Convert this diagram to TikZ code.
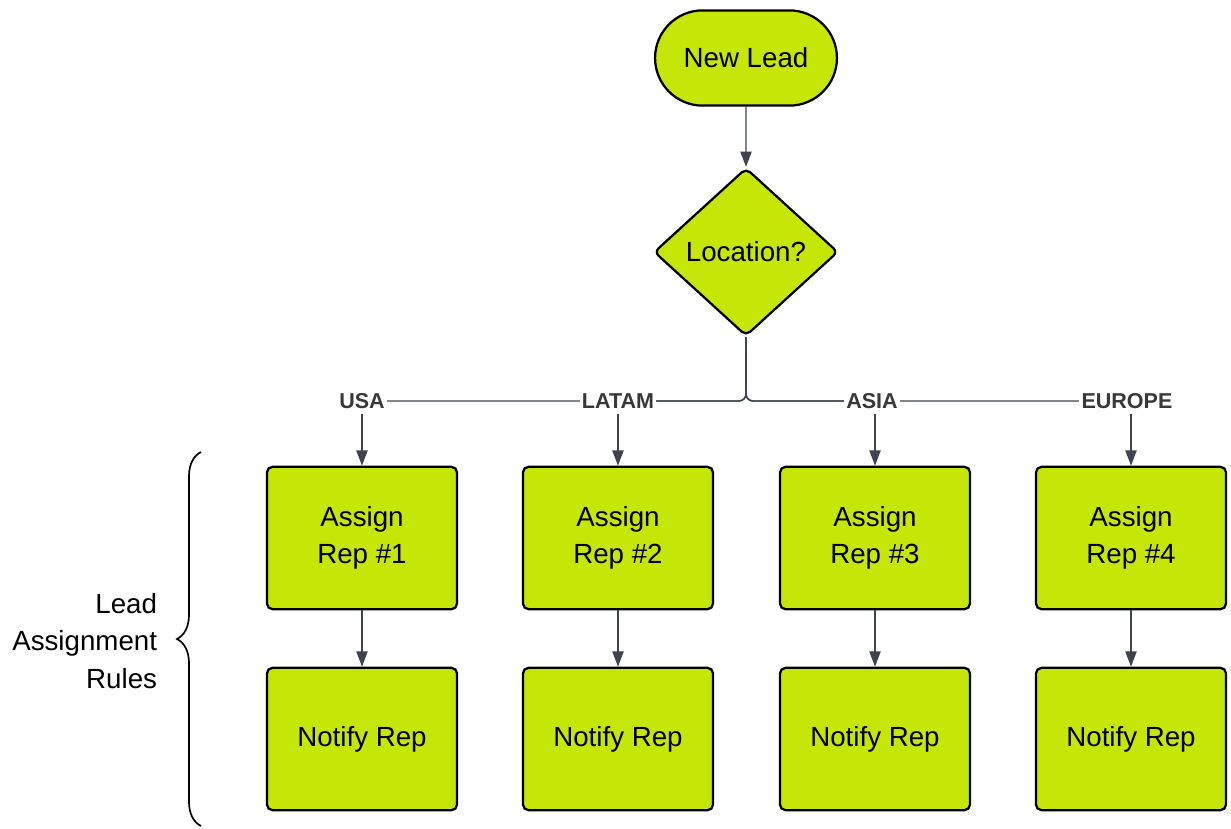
\documentclass[tikz,border=0pt]{standalone}
\usepackage{fontspec}
\setmainfont{Liberation Sans}
\usepackage{tikz}
\usetikzlibrary{arrows.meta}
\usetikzlibrary{backgrounds}
\usetikzlibrary{shapes}
\usetikzlibrary{decorations.pathreplacing}
\definecolor{lime}{HTML}{C5E606}
\definecolor{wire}{HTML}{3D444F}
\definecolor{tag}{HTML}{383838}

\tikzset{
  block/.style={draw=black, line width=1.6pt, fill=lime, rounded corners=4pt,
    minimum width=4.75cm, minimum height=3.56cm, align=center,
    font=\fontsize{19.7}{26.5}\selectfont},
  startnode/.style={draw=black, line width=1.6pt, fill=lime, rounded rectangle,
    minimum width=4.78cm, minimum height=2.38cm,
    font=\fontsize{19.7}{26.5}\selectfont},
  choice/.style={draw=black, line width=1.6pt, fill=lime, diamond, rounded corners=4pt,
    inner sep=0pt, minimum width=4.6cm, minimum height=4.2cm,
    font=\fontsize{19.7}{26.5}\selectfont},
  branch/.style={fill=white, text=tag, inner sep=1.5pt,
    font=\fontsize{15.3}{17}\selectfont\bfseries},
  link/.style={draw=wire, line width=1pt},
  arrow/.style={link, -{Triangle[length=3.8mm, width=2.8mm]}},
}

\begin{document}
\begin{tikzpicture}[x=0.025cm, y=-0.025cm]

  \useasboundingbox (0,0) rectangle (1231,829);

  % Start and decision
  \node[startnode] (Start) at (746,58) {New Lead};
  \node[choice] (Where) at (746,252) {Location?};

  \draw[arrow] (Start) -- (Where);

  % Branch labels on the split line
  \node[branch] (USA) at (362,401) {USA};
  \node[branch] (LATAM) at (618,401) {LATAM};
  \node[branch] (ASIA) at (872,401) {ASIA};
  \node[branch] (EUROPE) at (1127,401) {EUROPE};

  \begin{pgfonlayer}{background}
    \draw[link, rounded corners=5pt] (Where.south) |- (USA);
    \draw[link, rounded corners=5pt] (Where.south) |- (LATAM);
    \draw[link, rounded corners=5pt] (Where.south) |- (ASIA);
    \draw[link, rounded corners=5pt] (Where.south) |- (EUROPE);
  \end{pgfonlayer}

  % Assignment boxes
  \node[block] (Rep1) at (362,538) {Assign\\Rep \#1};
  \node[block] (Rep2) at (618,538) {Assign\\Rep \#2};
  \node[block] (Rep3) at (875,538) {Assign\\Rep \#3};
  \node[block] (Rep4) at (1131,538) {Assign\\Rep \#4};

  % Notification boxes
  \node[block] (Note1) at (362,739) {Notify Rep};
  \node[block] (Note2) at (618,739) {Notify Rep};
  \node[block] (Note3) at (875,739) {Notify Rep};
  \node[block] (Note4) at (1131,739) {Notify Rep};

  \draw[arrow] (USA.south |- 0,414) -- (Rep1);
  \draw[arrow] (LATAM.south |- 0,414) -- (Rep2);
  \draw[arrow] (Rep3.north |- 0,414) -- (Rep3);
  \draw[arrow] (Rep4.north |- 0,414) -- (Rep4);

  \draw[arrow] (Rep1) -- (Note1);
  \draw[arrow] (Rep2) -- (Note2);
  \draw[arrow] (Rep3) -- (Note3);
  \draw[arrow] (Rep4) -- (Note4);

  % Brace with its caption
  \draw[line width=1.2pt, decorate, decoration={brace, amplitude=0.6cm}]
    (201,826) -- (201,452);
  \node[anchor=east, align=right, font=\fontsize{19.7}{26.5}\selectfont] (Rules)
    at (162,641) {Lead\\Assignment\\Rules};

\end{tikzpicture}
\end{document}
